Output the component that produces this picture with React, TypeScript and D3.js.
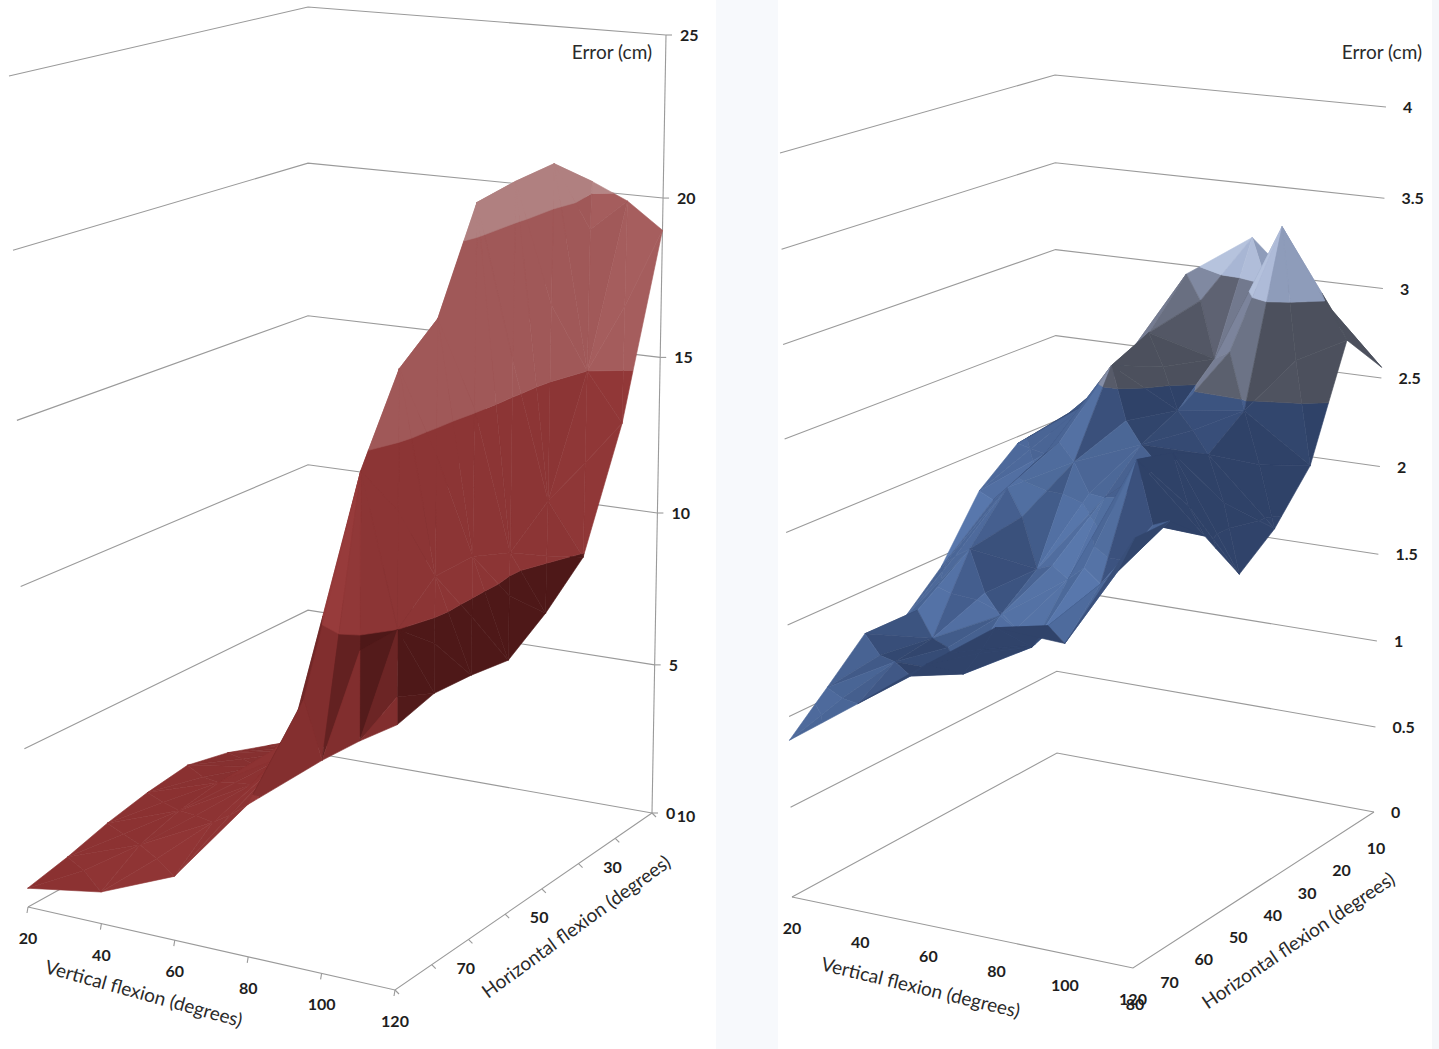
import React, { useEffect, useRef } from "react";
import * as d3 from "d3";

// categories
const redVflex = [20, 40, 60, 80, 100, 110, 120];
const blueVflex = [20, 40, 60, 80, 100, 120];
const hflexCats = [10, 20, 30, 40, 50, 60, 70, 80];

// rows follow hflexCats (10 -> 80), columns follow the panel's vflex categories
const errorRed = [
  [0.5, 1.2, 10.0, 15.0, 20.3, 19.8, 19.0],
  [1.0, 1.5, 9.0, 14.0, 21.3, 15.0, 13.5],
  [1.5, 2.0, 7.0, 12.0, 21.2, 11.5, 9.9],
  [1.8, 2.2, 5.0, 10.0, 21.0, 10.5, 8.8],
  [1.6, 2.4, 3.8, 8.0, 18.0, 11.0, 8.0],
  [1.3, 2.2, 3.5, 6.5, 17.0, 11.0, 8.2],
  [0.9, 1.8, 3.0, 5.5, 14.5, 10.0, 8.3],
  [0.6, 1.0, 2.0, 4.7, 6.5, 7.3, 8.0],
];

const errorBlue = [
  [1.94, 2.35, 2.95, 3.2, 2.86, 2.56],
  [1.96, 2.23, 2.7, 2.6, 3.38, 2.8],
  [1.78, 2.05, 2.6, 2.4, 2.45, 2.2],
  [1.44, 1.95, 2.15, 2.3, 2.3, 1.95],
  [1.24, 1.7, 1.65, 2.1, 2.4, 1.8],
  [1.26, 1.3, 1.49, 1.75, 2.45, 2.1],
  [1.06, 1.27, 1.27, 1.48, 1.88, 2.27],
  [0.87, 1.14, 1.42, 1.68, 1.66, 2.27],
];

const redTicks = [0, 5, 10, 15, 20, 25];
const blueTicks = [0, 0.5, 1, 1.5, 2, 2.5, 3, 3.5, 4];
const redVLabels = [20, 40, 60, 80, 100, 120];
const redHLabels = [10, 30, 50, 70];
const blueVLabels = [20, 40, 60, 80, 100, 120];
const blueHLabels = [10, 20, 30, 40, 50, 60, 70, 80];

// band colours: [shadow, base, lit, highlight]
const redBands = [
  ["#842f2f", "#8a3131", "#8f3434", "#953737"],
  ["#4e1818", "#5c1e1e", "#702626", "#863030"],
  ["#8c3535", "#903737", "#943939", "#983b3b"],
  ["#a05858", "#a35b5b", "#a75f5f", "#ab6363"],
  ["#b08080", "#b38383", "#b78888", "#bb8d8d"],
];
const blueBands = [
  ["#30436a", "#3c5481", "#4f6c9e", "#7aa0dc"],
  ["#30436a", "#3c5481", "#4f6c9e", "#7aa0dc"],
  ["#30436a", "#3c5481", "#4f6c9e", "#7aa0dc"],
  ["#30436a", "#3c5481", "#4f6c9e", "#7aa0dc"],
  ["#2f4268", "#3b527e", "#4c6898", "#7398d2"],
  ["#4c505d", "#585c6a", "#7c849c", "#a8b6d4"],
  ["#8e9cba", "#a6b4d2", "#b4c1dc", "#c6d1e8"],
  ["#a8b2ca", "#c0c8de", "#ccd3e6", "#d8def0"],
];

type V3 = [number, number, number];
type Pt = [number, number];

const panels = [
  {
    data: errorRed,
    vflex: redVflex,
    ticks: redTicks,
    bands: redBands,
    vLabels: redVLabels,
    hLabels: redHLabels,
    // screen corners: A(front-left) B(front-right) C(back-right) D(back-left)
    floor: [[28, 907], [395, 990], [652, 813], [308, 752]] as Pt[],
    top: [[9, 76], [402, 126], [666, 35], [308, 7]] as Pt[],
    warp: 0.06,
    light: [-0.4, -0.8, 0.45],
    spread: [0.35, 0.2, 0.35],
    tickMarks: true,
    axisLine: true,
    valueDx: 14,
    hOff: [34, 3] as Pt,
    vOff: [0, 31] as Pt,
    title: [652, 59] as Pt,
    vTitle: { x: 142, y: 1000, a: 15.5 },
    hTitle: { x: 580, y: 932, a: -36 },
  },
  {
    data: errorBlue,
    vflex: blueVflex,
    ticks: blueTicks,
    bands: blueBands,
    vLabels: blueVLabels,
    hLabels: blueHLabels,
    floor: [[792, 897], [1133, 968], [1374, 812], [1057, 753]] as Pt[],
    top: [[780, 153], [1136, 197], [1386, 107], [1055, 75]] as Pt[],
    warp: 0.04,
    light: [-0.5, -0.7, 0.5],
    spread: [0.22, 0.1, 0.24],
    tickMarks: false,
    axisLine: false,
    valueDx: 17,
    hOff: [2, 36] as Pt,
    vOff: [0, 31] as Pt,
    title: [1422, 59] as Pt,
    vTitle: { x: 919, y: 994, a: 13.6 },
    hTitle: { x: 1302, y: 946, a: -34 },
  },
];

function clipPoly(poly: V3[], level: number, above: boolean): V3[] {
  const out: V3[] = [];
  for (let i = 0; i < poly.length; i++) {
    const a = poly[i];
    const b = poly[(i + 1) % poly.length];
    const aIn = above ? a[2] >= level : a[2] <= level;
    const bIn = above ? b[2] >= level : b[2] <= level;
    if (aIn) out.push(a);
    if (aIn !== bIn) {
      const t = (level - a[2]) / (b[2] - a[2]);
      out.push([a[0] + t * (b[0] - a[0]), a[1] + t * (b[1] - a[1]), level]);
    }
  }
  return out;
}

function drawPanel(g: d3.Selection<SVGGElement, unknown, null, undefined>, cfg: (typeof panels)[0]) {
  const maxV = cfg.ticks[cfg.ticks.length - 1];
  const step = cfg.ticks[1] - cfg.ticks[0];
  const vflex = cfg.vflex;
  const uScale = d3.scaleLinear().domain([vflex[0], vflex[vflex.length - 1]]).range([0, 1]);
  const pScale = d3.scaleLinear().domain([hflexCats[hflexCats.length - 1], hflexCats[0]]).range([0, 1]);
  const zScale = d3.scaleLinear().domain([0, maxV]).range([0, 1]);
  const warp = (t: number) => t - cfg.warp * t * (1 - t);

  const proj = (u: number, p: number, val: number): Pt => {
    const w = [(1 - u) * (1 - p), u * (1 - p), u * p, (1 - u) * p];
    let fx = 0, fy = 0, tx = 0, ty = 0;
    for (let k = 0; k < 4; k++) {
      fx += w[k] * cfg.floor[k][0];
      fy += w[k] * cfg.floor[k][1];
      tx += w[k] * cfg.top[k][0];
      ty += w[k] * cfg.top[k][1];
    }
    const t = warp(zScale(val));
    return [fx + (tx - fx) * t, fy + (ty - fy) * t];
  };
  const line = d3.line<Pt>();
  const ring = d3.line<Pt>().curve(d3.curveLinearClosed);

  // wall gridlines
  const grid = g.append("g").attr("fill", "none").attr("stroke", "#9a9a9a").attr("stroke-width", 1.1);
  cfg.ticks.forEach((t) => {
    grid.append("path").attr("d", line([proj(0, 0, t), proj(0, 1, t), proj(1, 1, t)]));
  });
  // floor edges
  grid.append("path").attr("d", line([proj(0, 0, 0), proj(1, 0, 0), proj(1, 1, 0)]));

  if (cfg.axisLine) {
    grid.append("path").attr("d", line([proj(1, 1, 0), proj(1, 1, maxV)]));
    cfg.ticks.forEach((t) => {
      const q = proj(1, 1, t);
      grid.append("path").attr("d", line([q, [q[0] + 6, q[1]]]));
    });
  }
  if (cfg.tickMarks) {
    cfg.vLabels.forEach((v) => {
      const q = proj(uScale(v), 0, 0);
      grid.append("path").attr("d", line([q, [q[0] - 1, q[1] + 6]]));
    });
    hflexCats.forEach((h) => {
      const q = proj(1, pScale(h), 0);
      grid.append("path").attr("d", line([q, [q[0] + 4, q[1] + 4]]));
    });
  }

  // surface: each cell split in four triangles around its centre
  const L = cfg.light;
  const ln = Math.hypot(L[0], L[1], L[2]);
  const Ln = [L[0] / ln, L[1] / ln, L[2] / ln];
  const tris: { pts: V3[]; depth: number; dot: number }[] = [];
  const data = cfg.data;
  for (let r = 0; r < hflexCats.length - 1; r++) {
    for (let c = 0; c < vflex.length - 1; c++) {
      const a: V3 = [uScale(vflex[c]), pScale(hflexCats[r + 1]), data[r + 1][c]];
      const b: V3 = [uScale(vflex[c + 1]), pScale(hflexCats[r + 1]), data[r + 1][c + 1]];
      const cc: V3 = [uScale(vflex[c + 1]), pScale(hflexCats[r]), data[r][c + 1]];
      const d: V3 = [uScale(vflex[c]), pScale(hflexCats[r]), data[r][c]];
      const m: V3 = [
        (a[0] + b[0] + cc[0] + d[0]) / 4,
        (a[1] + b[1] + cc[1] + d[1]) / 4,
        (a[2] + b[2] + cc[2] + d[2]) / 4,
      ];
      const quad = [a, b, cc, d];
      for (let k = 0; k < 4; k++) {
        const p1 = quad[k], p2 = quad[(k + 1) % 4];
        const pts: V3[] = [m, p1, p2];
        const wv = pts.map((q) => [q[0], q[1], zScale(q[2]) * 2.2]);
        const e1 = [wv[1][0] - wv[0][0], wv[1][1] - wv[0][1], wv[1][2] - wv[0][2]];
        const e2 = [wv[2][0] - wv[0][0], wv[2][1] - wv[0][1], wv[2][2] - wv[0][2]];
        let n = [e1[1] * e2[2] - e1[2] * e2[1], e1[2] * e2[0] - e1[0] * e2[2], e1[0] * e2[1] - e1[1] * e2[0]];
        const nl = Math.hypot(n[0], n[1], n[2]) || 1;
        n = n.map((x) => x / nl);
        if (n[2] < 0) n = n.map((x) => -x);
        const dot = n[0] * Ln[0] + n[1] * Ln[1] + n[2] * Ln[2];
        const cu = (pts[0][0] + pts[1][0] + pts[2][0]) / 3;
        const cp = (pts[0][1] + pts[1][1] + pts[2][1]) / 3;
        tris.push({ pts, depth: cp + 0.35 * (1 - cu), dot });
      }
    }
  }
  tris.sort((x, y) => y.depth - x.depth);
  const med = d3.median(tris, (t) => t.dot) ?? 0.5;
  const [s0, s1, s2] = cfg.spread;
  const shadeScales = cfg.bands.map((cols) =>
    d3.scaleLinear<string>()
      .domain([med - s0, med, med + s1, med + s2])
      .range(cols)
      .interpolate(d3.interpolateRgb)
      .clamp(true)
  );

  const surf = g.append("g");
  tris.forEach((tri) => {
    cfg.bands.forEach((_, bi) => {
      const lo = bi * step, hi = (bi + 1) * step;
      let poly = clipPoly(tri.pts, lo, true);
      if (poly.length < 3) return;
      poly = clipPoly(poly, hi, false);
      if (poly.length < 3) return;
      const fill = shadeScales[bi](tri.dot);
      surf.append("path")
        .attr("d", ring(poly.map((q) => proj(q[0], q[1], q[2]))))
        .attr("fill", fill)
        .attr("stroke", fill)
        .attr("stroke-width", 0.6)
        .attr("stroke-linejoin", "round");
    });
  });

  // labels
  const lab = g.append("g")
    .attr("font-family", "Lato, 'Open Sans', sans-serif")
    .attr("fill", "#1e1e1e");
  cfg.ticks.forEach((t) => {
    const q = proj(1, 1, t);
    lab.append("text")
      .attr("x", q[0] + cfg.valueDx)
      .attr("y", q[1] + 6)
      .attr("font-size", 16)
      .attr("font-weight", 700)
      .text(String(t));
  });
  cfg.vLabels.forEach((v) => {
    const q = proj(uScale(v), 0, 0);
    lab.append("text")
      .attr("x", q[0] + cfg.vOff[0])
      .attr("y", q[1] + cfg.vOff[1] + 6)
      .attr("text-anchor", "middle")
      .attr("font-size", 16)
      .attr("font-weight", 700)
      .text(String(v));
  });
  cfg.hLabels.forEach((h) => {
    const q = proj(1, pScale(h), 0);
    lab.append("text")
      .attr("x", q[0] + cfg.hOff[0])
      .attr("y", q[1] + cfg.hOff[1] + 6)
      .attr("text-anchor", "middle")
      .attr("font-size", 16)
      .attr("font-weight", 700)
      .text(String(h));
  });
  lab.append("text")
    .attr("x", cfg.title[0])
    .attr("y", cfg.title[1])
    .attr("text-anchor", "end")
    .attr("font-size", 19)
    .attr("fill", "#2a2a2a")
    .text("Error (cm)");
  lab.append("text")
    .attr("transform", `translate(${cfg.vTitle.x},${cfg.vTitle.y}) rotate(${cfg.vTitle.a})`)
    .attr("text-anchor", "middle")
    .attr("font-size", 19)
    .attr("fill", "#2a2a2a")
    .text("Vertical flexion (degrees)");
  lab.append("text")
    .attr("transform", `translate(${cfg.hTitle.x},${cfg.hTitle.y}) rotate(${cfg.hTitle.a})`)
    .attr("text-anchor", "middle")
    .attr("font-size", 19)
    .attr("fill", "#2a2a2a")
    .text("Horizontal flexion (degrees)");
}

export default function App() {
  const svgRef = useRef<SVGSVGElement | null>(null);

  useEffect(() => {
    if (!svgRef.current) return;
    const svg = d3.select(svgRef.current);
    svg.selectAll("*").remove();
    svg.append("rect").attr("width", 1439).attr("height", 1049).attr("fill", "#ffffff");
    // faint gutter between the two scanned panels
    svg.append("rect").attr("x", 716).attr("y", 0).attr("width", 62).attr("height", 1049).attr("fill", "#f7f9fc");
    svg.append("rect").attr("x", 1432).attr("y", 0).attr("width", 7).attr("height", 1049).attr("fill", "#f5f7fa");
    panels.forEach((cfg) => drawPanel(svg.append("g"), cfg));
  }, []);

  return (
    <svg
      ref={svgRef}
      width={1439}
      height={1049}
      style={{ position: "absolute", left: 0, top: 0, background: "#fff" }}
    />
  );
}
